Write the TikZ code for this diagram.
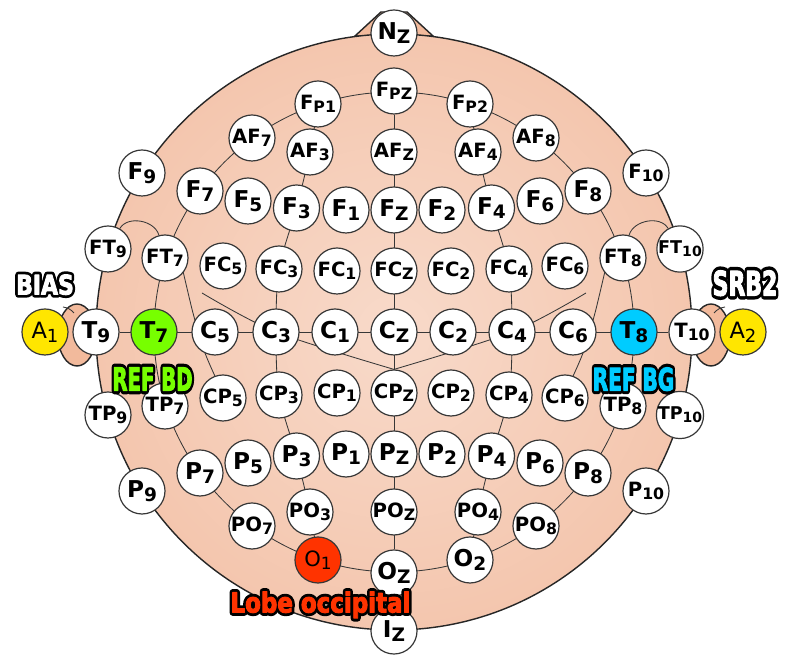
\documentclass[tikz,border=0pt]{standalone}
\usepackage{fontspec}
\setmainfont{DejaVu Sans}
\newfontfamily\tagfont{DejaVu Sans Condensed Bold}
\usepackage{graphicx}
\usetikzlibrary{positioning, calc, backgrounds}

\definecolor{skinin}{RGB}{248,218,202}
\definecolor{skinout}{RGB}{240,178,146}
\definecolor{skin}{RGB}{242,186,156}
\definecolor{linegray}{RGB}{55,55,55}
\definecolor{biasyellow}{RGB}{255,230,0}
\definecolor{refgreen}{RGB}{119,255,0}
\definecolor{refcyan}{RGB}{0,204,255}
\definecolor{lobered}{RGB}{255,51,0}

\pgfdeclareradialshading{headshade}{\pgfpoint{0bp}{0bp}}{color(0bp)=(skinin); color(50bp)=(skinout)}

% electrode label: letters + lowered index
\newcommand\elsub[1]{\raisebox{-0.3ex}{\scalebox{0.8}{#1}}}
% stroked (outline only) text, and filled text made a little heavier
\newcommand\strokedtext[1]{\special{pdf:literal direct 0 0 0 RG 1 j 2.4 w 1 Tr}#1\special{pdf:literal direct 0 Tr}}
\newcommand\heavytext[1]{\special{pdf:literal direct 1 j 0.35 w 2 Tr}#1\special{pdf:literal direct 0 Tr}}
% outlined tag: name, base coordinate, fill colour, text
\newcommand\tagtext[4]{%
  \node[tag, text=black] (#1o) at (#2) {\strokedtext{#4}};
  \node[tag, text=#3] (#1) at (#2) {\heavytext{#4}};
}

\begin{document}
\begin{tikzpicture}[x=0.025cm, y=0.025cm,
    el/.style={circle, draw=linegray, line width=0.85pt, fill=white, minimum size=1.15cm, inner sep=0pt, font=\fontsize{16.5}{16.5}\selectfont\bfseries},
    elm/.style={el, font=\fontsize{14}{14}\selectfont\bfseries},
    els/.style={el, font=\fontsize{12.5}{13}\selectfont\bfseries},
    wire/.style={draw=linegray, line width=0.6pt},
    headline/.style={draw=black!85, line width=1pt},
    tag/.style={font=\tagfont, inner sep=0pt, anchor=base}
]

% Electrodes, large labels
\foreach \n/\x/\y/\m/\s in {Nz/0/299/N/Z, Iz/0/-299/I/Z,
    F9/-252/159/F/9, F7/-194/141/F/7, F5/-146/131/F/5, F3/-97.5/124/F/3, F1/-48/122/F/1,
    Fz/0/122/F/Z, F2/48/122/F/2, F4/97.5/124/F/4, F6/146/131/F/6, F8/194/141/F/8,
    T9/-298/0/T/9, C5/-179/0/C/5, C3/-118/0/C/3, C1/-59/0/C/1, Cz/0/0/C/Z,
    C2/59/0/C/2, C4/118/0/C/4, C6/179/0/C/6,
    P9/-252/-159/P/9, P7/-194/-141/P/7, P5/-146/-131/P/5, P3/-97.5/-124/P/3, P1/-48/-122/P/1,
    Pz/0/-122/P/Z, P2/48/-122/P/2, P4/97.5/-124/P/4, P6/146/-131/P/6, P8/194/-141/P/8,
    Oz/0/-241/O/Z, O2/76/-228/O/2} {
    \node[el] (\n) at (\x,\y) {\m\elsub{\s}};
}
% Electrodes, medium labels
\foreach \n/\x/\y/\m/\s in {Fp1/-76/228/F/P1, Fpz/0/241/F/PZ, Fp2/76/228/F/P2,
    AF7/-142/194/AF/7, AF3/-84/180/AF/3, AFz/0/180/AF/Z, AF4/84/180/AF/4, AF8/142/194/AF/8,
    F10/252/159/F/10,
    FT9/-286/83/FT/9, FT7/-229/74/FT/7, FC5/-171/66/FC/5, FC3/-115/63/FC/3, FC1/-57/61/FC/1,
    FCz/0/61/FC/Z, FC2/57/61/FC/2, FC4/115/63/FC/4, FC6/171/66/FC/6, FT8/229/74/FT/8,
    T10/298/0/T/10,
    TP9/-286/-83/TP/9, TP7/-229/-74/TP/7, CP5/-171/-66/CP/5, CP3/-115/-63/CP/3, CP1/-57/-61/CP/1,
    CPz/0/-61/CP/Z, CP2/57/-61/CP/2, CP4/115/-63/CP/4, CP6/171/-66/CP/6, TP8/229/-74/TP/8,
    P10/252/-159/P/10,
    PO7/-142/-194/PO/7, PO3/-84/-180/PO/3, POz/0/-180/PO/Z, PO4/84/-180/PO/4, PO8/142/-194/PO/8} {
    \node[elm] (\n) at (\x,\y) {\m\elsub{\s}};
}
% Electrodes, small labels
\foreach \n/\x/\y/\m/\s in {FT10/286/83/FT/10, TP10/286/-83/TP/10} {
    \node[els] (\n) at (\x,\y) {\m\elsub{\s}};
}
% Coloured electrodes
\node[el, fill=biasyellow, font=\fontsize{16}{16}\selectfont] (A1) at (-349,0) {A\elsub{1}};
\node[el, fill=biasyellow, font=\fontsize{16}{16}\selectfont] (A2) at (349,0) {A\elsub{2}};
\node[el, fill=refgreen] (T7) at (-240,0) {T\elsub{7}};
\node[el, fill=refcyan] (T8) at (240,0) {T\elsub{8}};
\node[el, fill=lobered, font=\fontsize{15}{15}\selectfont] (O1) at (-76,-228) {O\elsub{1}};

\begin{scope}[on background layer]
% page and head
\path[use as bounding box, fill=white] (-394,-320) rectangle (397,332);
\draw[headline, fill=skin] (-39,296) -- (-13,320) -- (13,320) -- (39,296) -- cycle;
\draw[headline, fill=skin] (-317,-3) ellipse (19 and 31);
\draw[headline, fill=skin] (317,-3) ellipse (19 and 31);
\shade[headline, shading=headshade] (0,0) circle (298);
\draw[wire] (-331,25) to[bend left=20] (-320,19);
\draw[wire] (331,25) to[bend right=20] (320,19);

% grid lines
\draw[wire] (Cz) circle (240);
\draw[wire] (Fpz) -- (Oz);
\draw[wire] (T9) -- (T10);
\draw[wire] plot[smooth] coordinates {(Fp1.center) (AF3.center) (F3.center) (FC3.center) (C3.center)
    (CP3.center) (P3.center) (PO3.center) (O1.center)};
\draw[wire] plot[smooth] coordinates {(Fp2.center) (AF4.center) (F4.center) (FC4.center) (C4.center)
    (CP4.center) (P4.center) (PO4.center) (O2.center)};
\coordinate (lc) at (-192,39);
\coordinate (rc) at (192,39);
\draw[wire] plot[smooth] coordinates {(lc) (C3.center) (CPz.north)};
\draw[wire] plot[smooth] coordinates {(rc) (C4.center) (CPz.north)};
\draw[wire] plot[smooth] coordinates {(-214,74) (-201,19) (-189,-21) (-174,-55)};
\draw[wire] plot[smooth] coordinates {(214,74) (201,19) (189,-21) (174,-55)};
\draw[wire] (FT9) to[out=60,in=105] (FT7);
\draw[wire] (FT10) to[out=120,in=75] (FT8);
\end{scope}

% Tags
\coordinate (biasbase) at ($(A1)+(0,37.5)$);
\coordinate (srbbase) at ($(A2)+(2,36.5)$);
\coordinate (refbdbase) at ($(T7)+(-1.5,-58.5)$);
\coordinate (refbgbase) at ($(T8)+(-0.5,-58.5)$);
\coordinate (lobebase) at ($(O1)+(2.5,-52.5)$);
\tagtext{bias}{biasbase}{white}{\resizebox{41pt}{14.2pt}{BIAS}}
\tagtext{srb}{srbbase}{white}{\resizebox{46pt}{17.8pt}{SRB2}}
\tagtext{refbd}{refbdbase}{refgreen}{\resizebox{57pt}{16.4pt}{REF BD}}
\tagtext{refbg}{refbgbase}{refcyan}{\resizebox{58pt}{16.4pt}{REF BG}}
\tagtext{lobe}{lobebase}{lobered}{\resizebox{128pt}{14.9pt}{Lobe occipital}}

\end{tikzpicture}
\end{document}
